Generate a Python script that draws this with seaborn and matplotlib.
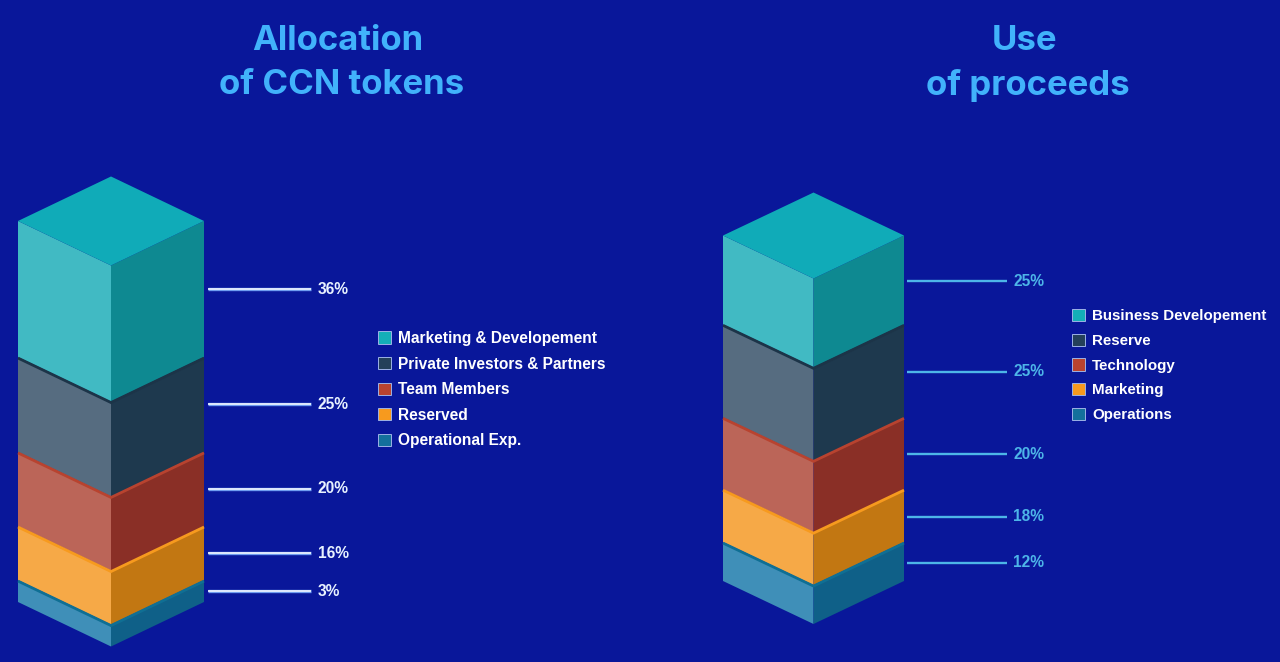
import matplotlib
matplotlib.use('Agg')
import matplotlib.pyplot as plt
from matplotlib.patches import Patch
from matplotlib.transforms import Affine2D
import seaborn as sns

# 1. Values (share = height of each block, label = printed text)
alloc_names = ['Marketing & Developement', 'Private Investors & Partners', 'Team Members', 'Reserved', 'Operational Exp.']
alloc_share = [36.0, 25.1, 19.6, 14.3, 5.8]
alloc_labels = ['36%', '25%', '20%', '16%', '3%']

use_names = ['Business Developement', 'Reserve', 'Technology', 'Marketing', 'Operations']
use_share = [23.5, 24.6, 19.0, 14.0, 10.3]
use_labels = ['25%', '25%', '20%', '18%', '12%']

# 2. Colours, top block to bottom block
BG = '#09179a'
front_colors = ['#41bac3', '#566c80', '#bb6558', '#f6a947', '#3f8fb8']
side_colors = ['#0e8991', '#1e394e', '#8a2f26', '#c27712', '#0f6088']
lip_colors = ['#10abb8', '#1c3448', '#b8432f', '#f79a1e', '#0f6f94']
swatch_colors = ['#14aeb8', '#24405a', '#b8432f', '#f79a1e', '#14709c']
TOP_COLOR = '#10abb8'
TITLE_COLOR = '#41b2fb'

W, H = 1280, 662
PX_PER_UNIT = 3.78
FONT_SIZE = 11.2

sns.set_theme(style='white')
plt.rcParams['font.family'] = ['Liberation Sans', 'DejaVu Sans']

fig = plt.figure(figsize=(W / 100, H / 100), dpi=100, facecolor=BG)


def draw_tower(ax_left, ax_width, left_px, width_px, base_px, depth_px, names, shares, labels,
               line_x, line_shift, label_x, line_colors, line_widths, text_color, legend_xy, row_px, legend_fs):
    ax = fig.add_axes([ax_left / W, 0, ax_width / W, 1])
    unit = width_px / 2
    k = depth_px / PX_PER_UNIT

    def to_x(px):
        return -0.5 + (px - left_px) / unit

    # draw from the bottom block up so the upper blocks sit on the lower ones
    order = list(range(len(shares)))[::-1]
    bottom = 0
    mids = {}
    bounds = {}
    for i in order:
        h = shares[i]
        pal = {'front': front_colors[i], 'side': side_colors[i]}
        n_before = len(ax.patches)
        sns.barplot(x=['front', 'side'], y=[h, h], hue=['front', 'side'], palette=pal, width=1,
                    bottom=bottom, dodge=False, legend=False, saturation=1, errorbar=None,
                    edgecolor='none', linewidth=0, ax=ax)
        front, side = ax.patches[n_before:]
        # shear the flat bars into the two visible faces
        front.set_transform(Affine2D.from_values(1, -k, 0, 1, 0, -0.5 * k) + ax.transData)
        side.set_transform(Affine2D.from_values(1, k, 0, 1, 0, -1.5 * k) + ax.transData)
        mids[i] = bottom + h / 2
        bounds[i] = bottom + h
        bottom += h

    # lip along the top edge of every block under the first
    for i in order[:-1]:
        y = bounds[i] - 1.0 / PX_PER_UNIT
        ax.plot([-0.5, 0.5, 1.5], [y, y - k, y], color=lip_colors[i], lw=2.0,
                solid_joinstyle='miter', solid_capstyle='butt', zorder=4)

    ax.fill([-0.5, 0.5, 1.5, 0.5], [bottom, bottom - k, bottom, bottom + k], color=TOP_COLOR, lw=0, zorder=5)

    # leader lines and percent labels
    for i, lab in enumerate(labels):
        y = mids[i] + line_shift
        for c, lw in zip(line_colors, line_widths):
            ax.plot([to_x(line_x[0]), to_x(line_x[1])], [y, y], color=c, lw=lw, solid_capstyle='butt', zorder=6)
        ax.text(to_x(label_x), y, lab, color=text_color, fontsize=FONT_SIZE, fontweight='bold', va='center', ha='left')

    ax.set_xlim(to_x(ax_left), to_x(ax_left + ax_width))
    ax.set_ylim(-(H - base_px) / PX_PER_UNIT, base_px / PX_PER_UNIT)
    ax.set_axis_off()

    handles = [Patch(facecolor=c, edgecolor='#9db2e6', linewidth=0.7, label=n) for c, n in zip(swatch_colors, names)]
    fs_px = legend_fs * 100 / 72
    fig.legend(handles=handles, loc='upper left', bbox_to_anchor=(legend_xy[0] / W, 1 - legend_xy[1] / H),
               frameon=False, labelcolor='white', prop={'family': 'Liberation Sans', 'weight': 'bold', 'size': legend_fs},
               handlelength=13 / fs_px, handleheight=13 / fs_px, handletextpad=7 / fs_px,
               labelspacing=(row_px - fs_px) / fs_px, borderpad=0, borderaxespad=0)


# 3. The two towers
draw_tower(0, 640, 18, 186, 602, 44.5, alloc_names, alloc_share, alloc_labels,
           (208, 311), 0, 318, ['#6f9df0', '#f2f7ff'], [2.4, 1.2], '#e8f2ff', (378, 331), 26.1, FONT_SIZE)
draw_tower(640, 640, 723, 181, 581, 43, use_names, use_share, use_labels,
           (907, 1007), -0.3, 1013, ['#4db5e8'], [1.7], '#4db5e8', (1072, 309), 25.5, 10.9)

# 4. Titles
title_rows = [('Allocation', 338, 41), ('of CCN tokens', 342, 85), ('Use', 1024, 41), ('of proceeds', 1028, 85)]
for txt, x, y in title_rows:
    fig.text(x / W, 1 - y / H, txt, color=TITLE_COLOR, fontsize=25, fontweight='bold',
             family='Inter', ha='center', va='center')

fig.savefig('out.png', dpi=100, facecolor=BG)
